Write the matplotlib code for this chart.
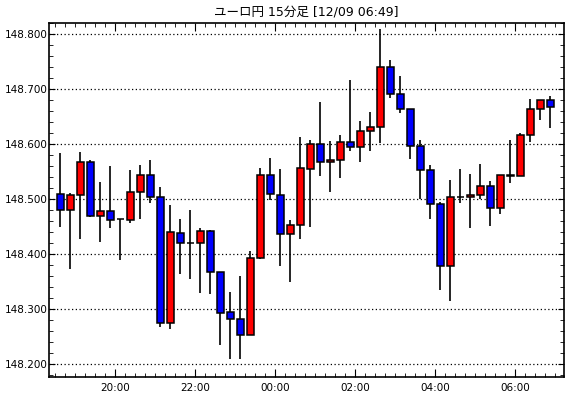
import numpy as np
import matplotlib.pyplot as plt
from matplotlib.ticker import MultipleLocator, FixedLocator

opens = [148.509, 148.480, 148.507, 148.567, 148.470, 148.478, 148.464, 148.463, 148.513, 148.545,
         148.505, 148.275, 148.438, 148.421, 148.421, 148.442, 148.368, 148.296, 148.282, 148.253,
         148.393, 148.545, 148.507, 148.436, 148.453, 148.555, 148.600, 148.567, 148.571, 148.605,
         148.595, 148.625, 148.631, 148.740, 148.691, 148.665, 148.596, 148.553, 148.491, 148.378,
         148.505, 148.505, 148.507, 148.524, 148.485, 148.545, 148.542, 148.616, 148.664, 148.680]
highs = [148.584, 148.511, 148.586, 148.572, 148.532, 148.561, 148.465, 148.553, 148.562, 148.572,
         148.522, 148.489, 148.464, 148.480, 148.447, 148.444, 148.368, 148.331, 148.361, 148.406,
         148.556, 148.575, 148.555, 148.462, 148.613, 148.608, 148.677, 148.606, 148.617, 148.717,
         148.642, 148.659, 148.809, 148.753, 148.725, 148.665, 148.607, 148.562, 148.495, 148.535,
         148.555, 148.546, 148.564, 148.533, 148.545, 148.608, 148.620, 148.682, 148.680, 148.687]
lows = [148.449, 148.373, 148.427, 148.468, 148.423, 148.447, 148.390, 148.456, 148.465, 148.494,
        148.267, 148.265, 148.365, 148.356, 148.330, 148.327, 148.236, 148.209, 148.209, 148.253,
        148.391, 148.498, 148.379, 148.350, 148.428, 148.449, 148.542, 148.514, 148.538, 148.587,
        148.567, 148.588, 148.602, 148.685, 148.656, 148.574, 148.500, 148.465, 148.336, 148.316,
        148.494, 148.447, 148.500, 148.451, 148.473, 148.530, 148.542, 148.605, 148.645, 148.630]
closes = [148.480, 148.507, 148.567, 148.470, 148.478, 148.463, 148.464, 148.513, 148.544, 148.505,
          148.275, 148.440, 148.420, 148.421, 148.442, 148.368, 148.294, 148.282, 148.253, 148.393,
          148.545, 148.509, 148.436, 148.453, 148.556, 148.600, 148.567, 148.571, 148.605, 148.595,
          148.625, 148.631, 148.740, 148.691, 148.665, 148.596, 148.553, 148.491, 148.378, 148.505,
          148.505, 148.507, 148.524, 148.485, 148.545, 148.542, 148.616, 148.664, 148.680, 148.667]

time_labels = ['20:00', '22:00', '00:00', '02:00', '04:00', '06:00']
time_pos = [5.5, 13.5, 21.5, 29.5, 37.5, 45.5]

title = 'ユーロ円 15分足 [12/09 06:49]'

o = np.array(opens)
h = np.array(highs)
l = np.array(lows)
c = np.array(closes)
x = np.arange(len(o))

fig = plt.figure(figsize=(5.7, 3.98), dpi=100)
ax = fig.add_axes([0.0865, 0.0528, 0.9035, 0.8902])

colors = ['#ff0000' if cc >= oo else '#0000ff' for oo, cc in zip(o, c)]
ax.vlines(x, l, h, color='black', lw=1.2, zorder=2)
ax.bar(x, np.abs(c - o), bottom=np.minimum(o, c), width=0.65,
       color=colors, edgecolor='black', linewidth=1.1, zorder=3)

ax.set_xlim(-1.1, 50.4)
ax.set_ylim(148.177, 148.821)

ax.yaxis.set_major_locator(MultipleLocator(0.1))
ax.yaxis.set_minor_locator(MultipleLocator(0.02))
ax.yaxis.set_major_formatter(plt.FuncFormatter(lambda v, p: '%.3f' % v))
ax.xaxis.set_major_locator(FixedLocator(time_pos))
ax.xaxis.set_minor_locator(FixedLocator(np.arange(-0.5, 50.5, 1)))
ax.set_xticklabels(time_labels)

ax.grid(axis='y', which='major', color='black', linestyle=(0, (1, 2)), linewidth=0.9)
ax.set_axisbelow(True)

ax.tick_params(axis='both', which='both', direction='in', top=True, right=True,
               labelsize=7.5, color='black')
ax.tick_params(axis='y', which='major', length=4, pad=1)
ax.tick_params(axis='y', which='minor', length=3)
ax.tick_params(axis='x', which='major', length=6, pad=4)
ax.tick_params(axis='x', which='minor', length=3)
for s in ax.spines.values():
    s.set_linewidth(1.2)

fig.text(0.538, 0.971, title, ha='center', va='center', fontsize=9,
         family=['DejaVu Sans', 'Noto Sans CJK JP'])

fig.savefig('out.png', dpi=100)
